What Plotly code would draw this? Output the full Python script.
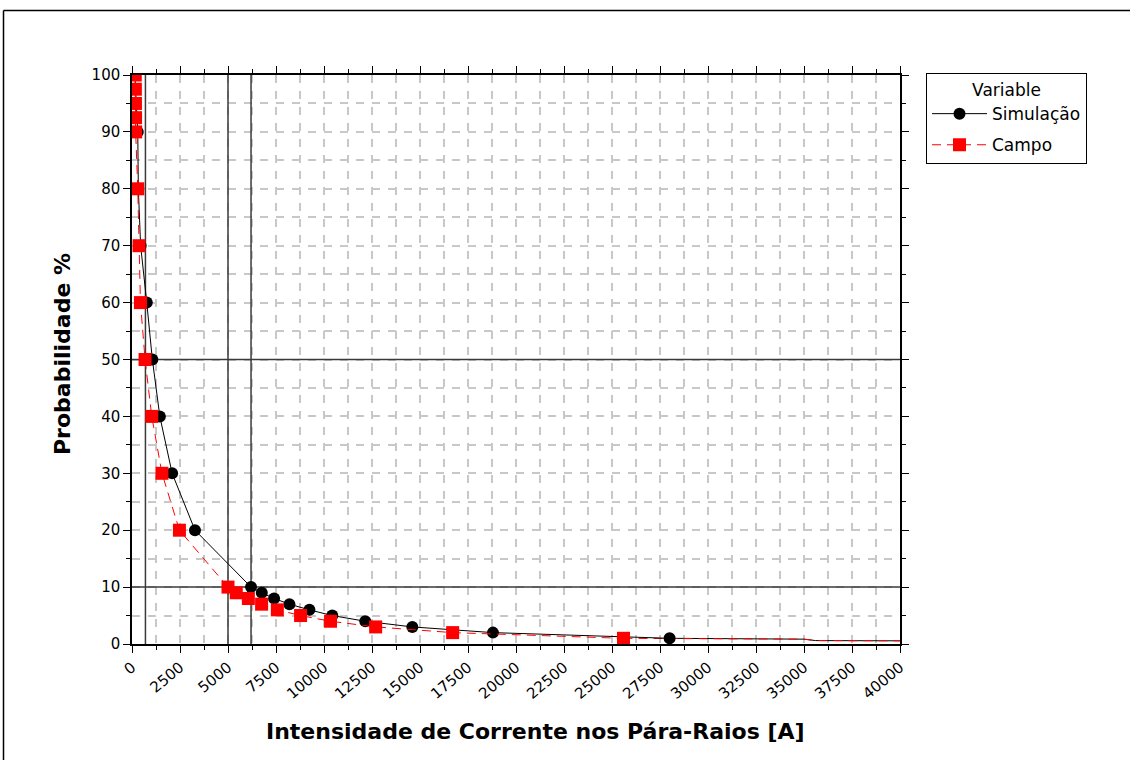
"""Probabilidade acumulada da corrente nos para-raios: simulação x campo."""

import plotly.graph_objects as go


# Simulação (black circles)
SIM_CURRENT = [150, 300, 330, 450, 770, 1060, 1450, 2090, 3280, 6200, 6760,
               7400, 8200, 9240, 10430, 12150, 14600, 18800, 28000]
SIM_PROB = [100, 90, 80, 70, 60, 50, 40, 30, 20, 10, 9, 8, 7, 6, 5, 4, 3, 2, 1]

# Campo (red squares)
CAMPO_CURRENT = [170, 175, 180, 185, 190, 300, 365, 440, 680, 1030, 1560,
                 2470, 5000, 5430, 6060, 6750, 7570, 8780, 10340, 12690,
                 16700, 25600]
CAMPO_PROB = [100, 97.5, 95, 92.5, 90, 80, 70, 60, 50, 40, 30, 20, 10, 9, 8,
              7, 6, 5, 4, 3, 2, 1]

# line continuation past the last plotted point (no markers)
SIM_TAIL_CURRENT = [28000, 35000, 35600, 41000]
SIM_TAIL_PROB = [1.0, 0.85, 0.6, 0.55]
CAMPO_TAIL_CURRENT = [25600, 35000, 35600, 41000]
CAMPO_TAIL_PROB = [1.0, 0.85, 0.6, 0.55]

# reference lines
REF_CURRENT = [700, 5000, 6200]
REF_PROB = [50, 10]

X_RANGE = [0, 40000]
Y_RANGE = [0, 100]
X_TICKS = [0, 2500, 5000, 7500, 10000, 12500, 15000, 17500, 20000, 22500,
           25000, 27500, 30000, 32500, 35000, 37500, 40000]
Y_TICKS = [0, 10, 20, 30, 40, 50, 60, 70, 80, 90, 100]

# plot area in pixels, used to place paper-referenced extras
PLOT_LEFT, PLOT_RIGHT, PLOT_TOP, PLOT_BOTTOM = 132, 900, 75, 644


def px_to_paper_x(px):
    return (px - PLOT_LEFT) / (PLOT_RIGHT - PLOT_LEFT)


def px_to_paper_y(py):
    return (PLOT_BOTTOM - py) / (PLOT_BOTTOM - PLOT_TOP)


fig = go.Figure()

ref_line = {"color": "#3a3a3a", "width": 1.5}
for ref_x in REF_CURRENT:
    fig.add_trace(
        go.Scatter(x=[ref_x, ref_x], y=Y_RANGE, mode="lines", line=ref_line,
                   showlegend=False, hoverinfo="skip")
    )
for ref_y in REF_PROB:
    fig.add_trace(
        go.Scatter(x=X_RANGE, y=[ref_y, ref_y], mode="lines", line=ref_line,
                   showlegend=False, hoverinfo="skip")
    )

fig.add_trace(
    go.Scatter(
        x=SIM_TAIL_CURRENT,
        y=SIM_TAIL_PROB,
        mode="lines",
        line={"color": "black", "width": 1},
        showlegend=False,
        legendgroup="sim",
        hoverinfo="skip",
    )
)
fig.add_trace(
    go.Scatter(
        x=CAMPO_TAIL_CURRENT,
        y=CAMPO_TAIL_PROB,
        mode="lines",
        line={"color": "#ff0000", "width": 1, "dash": "9px,6px"},
        showlegend=False,
        legendgroup="campo",
        hoverinfo="skip",
    )
)
fig.add_trace(
    go.Scatter(
        x=SIM_CURRENT,
        y=SIM_PROB,
        name="Simulação",
        legendgroup="sim",
        mode="lines+markers",
        line={"color": "black", "width": 1},
        marker={"symbol": "circle", "size": 12, "color": "black"},
    )
)
fig.add_trace(
    go.Scatter(
        x=CAMPO_CURRENT,
        y=CAMPO_PROB,
        name="Campo",
        legendgroup="campo",
        mode="lines+markers",
        line={"color": "#ff0000", "width": 1, "dash": "9px,6px"},
        marker={"symbol": "square", "size": 13, "color": "#ff0000"},
    )
)

grid_style = {"gridcolor": "#c8c8c8", "gridwidth": 1.5, "griddash": "8px,8px"}

fig.update_xaxes(
    range=X_RANGE,
    tickvals=X_TICKS,
    ticktext=[str(v) for v in X_TICKS],
    tickangle=-40,
    ticks="outside",
    ticklen=7,
    tickcolor="black",
    showline=True,
    linecolor="black",
    linewidth=1.5,
    mirror="allticks",
    zeroline=False,
    showgrid=True,
    **grid_style,
    minor={"dtick": 1250, "ticks": "outside", "ticklen": 4,
           "tickcolor": "black", "showgrid": True, **grid_style},
    tickfont={"family": "DejaVu Sans", "size": 15, "color": "black"},
)
fig.update_yaxes(
    range=Y_RANGE,
    tickvals=Y_TICKS,
    ticks="outside",
    ticklen=7,
    tickcolor="black",
    showline=True,
    linecolor="black",
    linewidth=1.5,
    mirror="allticks",
    zeroline=False,
    showgrid=True,
    **grid_style,
    minor={"dtick": 5, "ticks": "outside", "ticklen": 4,
           "tickcolor": "black", "showgrid": True, **grid_style},
    tickfont={"family": "DejaVu Sans", "size": 15, "color": "black"},
)

fig.add_annotation(
    text="Intensidade de Corrente nos Pára-Raios [A]",
    xref="paper", yref="paper",
    x=px_to_paper_x(535), y=px_to_paper_y(731),
    xanchor="center", yanchor="middle",
    showarrow=False,
    font={"family": "DejaVu Sans", "size": 22, "color": "black", "weight": "bold"},
)
fig.add_annotation(
    text="Probabilidade %",
    xref="paper", yref="paper",
    x=px_to_paper_x(62), y=px_to_paper_y(354),
    xanchor="center", yanchor="middle",
    textangle=-90,
    showarrow=False,
    font={"family": "DejaVu Sans", "size": 22, "color": "black", "weight": "bold"},
)

# outer frame (top and left edges of the exported window)
fig.add_shape(
    type="line", xref="paper", yref="paper",
    x0=px_to_paper_x(3.5), x1=px_to_paper_x(1135),
    y0=px_to_paper_y(10.5), y1=px_to_paper_y(10.5),
    line={"color": "black", "width": 1.5},
)
fig.add_shape(
    type="line", xref="paper", yref="paper",
    x0=px_to_paper_x(3.5), x1=px_to_paper_x(3.5),
    y0=px_to_paper_y(10.5), y1=px_to_paper_y(765),
    line={"color": "black", "width": 1.5},
)

fig.update_layout(
    width=1130,
    height=760,
    margin={"l": PLOT_LEFT, "r": 1130 - PLOT_RIGHT, "t": PLOT_TOP, "b": 760 - PLOT_BOTTOM},
    paper_bgcolor="white",
    plot_bgcolor="white",
    font={"family": "DejaVu Sans", "color": "black"},
    legend={
        "x": px_to_paper_x(926),
        "y": px_to_paper_y(73),
        "xanchor": "left",
        "yanchor": "top",
        "bgcolor": "white",
        "bordercolor": "black",
        "borderwidth": 1,
        "font": {"family": "DejaVu Sans", "size": 17, "color": "black"},
        "title": {"text": "Variable", "side": "top center",
                  "font": {"family": "DejaVu Sans", "size": 17, "color": "black"}},
        "itemwidth": 55,
        "tracegroupgap": 6,
        "traceorder": "grouped",
    },
)

# drop the default page margin so the figure sits at the window origin
fig.write_html(
    "out.html",
    config={"displayModeBar": False},
    post_script="document.body.style.margin='0';",
)
